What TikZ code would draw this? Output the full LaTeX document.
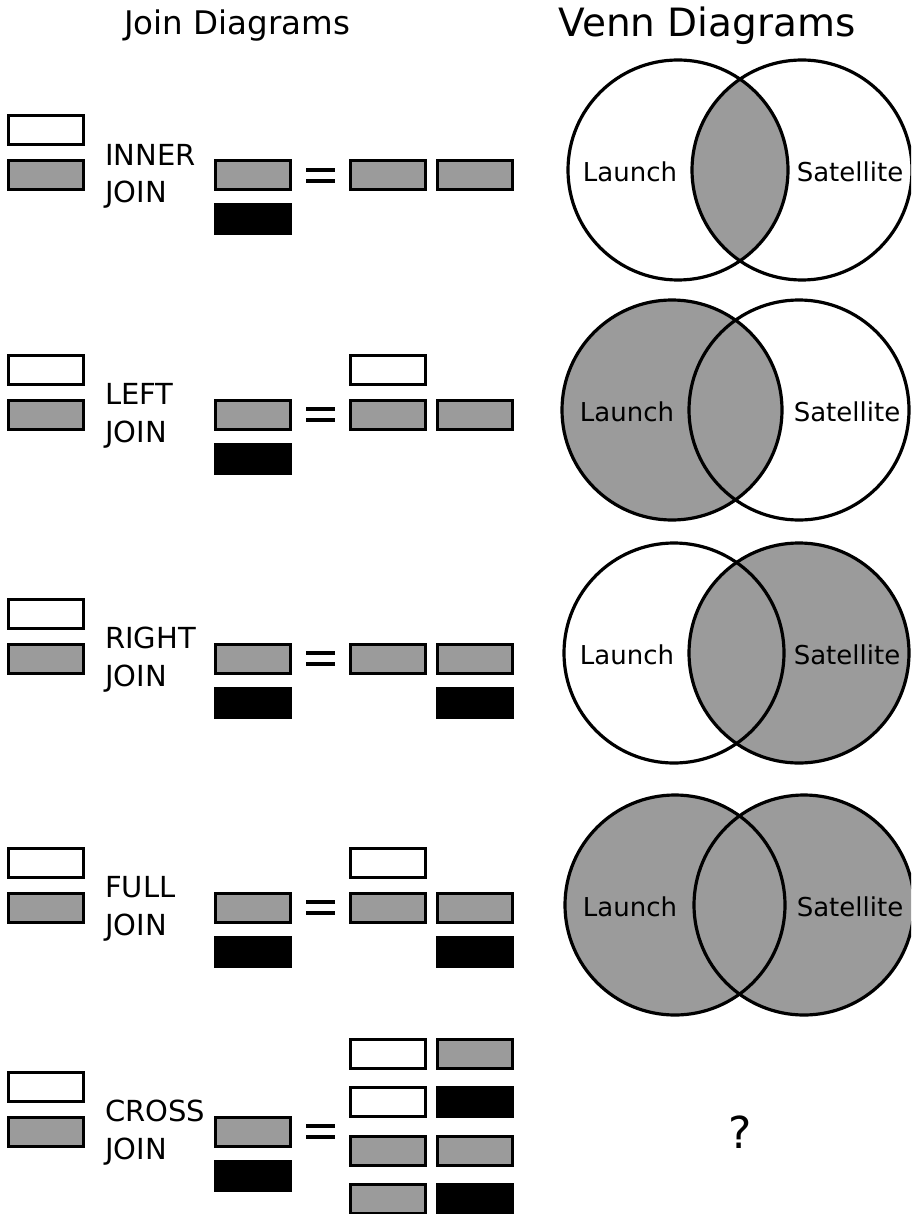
\documentclass[tikz,border=0pt]{standalone}
\usepackage{fontspec}
\setmainfont{DejaVu Sans}
\definecolor{boxgray}{RGB}{155,155,155}

% One join row: left table pair, caption, right table pair and the equals sign.
% #1 row id, #2 vertical centre, #3 and #4 caption lines
\newcommand\joinrow[4]{%
  \node[wcell] (w#1) at (46,#2-45) {};
  \node[gcell] (g#1) at (46,#2) {};
  \node[jlabel] (t#1a) at (105,#2-10) {#3};
  \node[jlabel] (t#1b) at (105,#2+27.5) {#4};
  \node[gcell] (mg#1) at (252.5,#2) {};
  \node[kcell] (mk#1) at (252.5,#2+44) {};
  \draw[eqbar] (306,#2-5.25) -- (335,#2-5.25);
  \draw[eqbar] (306,#2+5.25) -- (335,#2+5.25);
}

\begin{document}
\begin{tikzpicture}[x=1pt,y=-1pt,
  cell/.style={rectangle, draw=black, line width=3pt, minimum width=75pt,
               minimum height=29pt, inner sep=0pt},
  wcell/.style={cell, fill=white},
  gcell/.style={cell, fill=boxgray},
  kcell/.style={cell, fill=black},
  jlabel/.style={anchor=base west, inner sep=0pt, font=\fontsize{29pt}{35pt}\selectfont},
  eqbar/.style={line width=3.8pt},
  ring/.style={circle, draw=black, line width=3.2pt, minimum size=220pt, inner sep=0pt},
  vlabel/.style={anchor=base, inner sep=0pt, font=\fontsize{26pt}{30pt}\selectfont},
  title/.style={anchor=base, inner sep=0pt},
]
\clip (0,0) rectangle (911,1214);
\fill[white] (0,0) rectangle (911,1214);

% column titles
\node[title, font=\fontsize{32.5pt}{38pt}\selectfont] (jtitle) at (237,35) {Join Diagrams};
\node[title, font=\fontsize{39pt}{46pt}\selectfont] (vtitle) at (707,37) {Venn Diagrams};

% ---------------- join diagrams ----------------
\joinrow{1}{175.5}{INNER}{JOIN}
\node[gcell] (r1a) at (387.5,175.5) {};
\node[gcell] (r1b) at (475,175.5) {};

\joinrow{2}{414.5}{LEFT}{JOIN}
\node[wcell] (r2w) at (387.5,369.5) {};
\node[gcell] (r2a) at (387.5,414.5) {};
\node[gcell] (r2b) at (475,414.5) {};

\joinrow{3}{658.5}{RIGHT}{JOIN}
\node[gcell] (r3a) at (387.5,658.5) {};
\node[gcell] (r3b) at (475,658.5) {};
\node[kcell] (r3k) at (475,702.5) {};

\joinrow{4}{907.5}{FULL}{JOIN}
\node[wcell] (r4w) at (387.5,862.5) {};
\node[gcell] (r4a) at (387.5,907.5) {};
\node[gcell] (r4b) at (475,907.5) {};
\node[kcell] (r4k) at (475,951.5) {};

\joinrow{5}{1131.5}{CROSS}{JOIN}
\node[wcell] (r5a1) at (387.5,1053.5) {};
\node[gcell] (r5b1) at (475,1053.5) {};
\node[wcell] (r5a2) at (387.5,1102) {};
\node[kcell] (r5b2) at (475,1102) {};
\node[gcell] (r5a3) at (387.5,1150.5) {};
\node[gcell] (r5b3) at (475,1150.5) {};
\node[gcell] (r5a4) at (387.5,1199) {};
\node[kcell] (r5b4) at (475,1199) {};

% ---------------- venn diagrams ----------------
\coordinate (c1l) at (678,170);  \coordinate (c1r) at (802,170);
\coordinate (c2l) at (672,410);  \coordinate (c2r) at (799,410);
\coordinate (c3l) at (674,653);  \coordinate (c3r) at (799,653);
\coordinate (c4l) at (675,905);  \coordinate (c4r) at (804,905);

% shaded regions
\begin{scope}
  \clip (c1l) circle (110);
  \fill[boxgray] (c1r) circle (110);
\end{scope}
\fill[boxgray] (c2l) circle (110);
\fill[boxgray] (c3r) circle (110);
\fill[boxgray] (c4l) circle (110);
\fill[boxgray] (c4r) circle (110);

% outlines
\foreach \r in {1,2,3,4}{
  \node[ring] (v\r l) at (c\r l) {};
  \node[ring] (v\r r) at (c\r r) {};
}

% set names
\node[vlabel] (l1) at (630,181.5) {Launch};
\node[vlabel] (s1) at (850,181.5) {Satellite};
\node[vlabel] (l2) at (627,421.5) {Launch};
\node[vlabel] (s2) at (847,421.5) {Satellite};
\node[vlabel] (l3) at (627,664.5) {Launch};
\node[vlabel] (s3) at (847,664.5) {Satellite};
\node[vlabel] (l4) at (630,916.5) {Launch};
\node[vlabel] (s4) at (850,916.5) {Satellite};

\node[title, font=\fontsize{44pt}{50pt}\selectfont] (qmark) at (740,1148) {?};
\end{tikzpicture}
\end{document}
